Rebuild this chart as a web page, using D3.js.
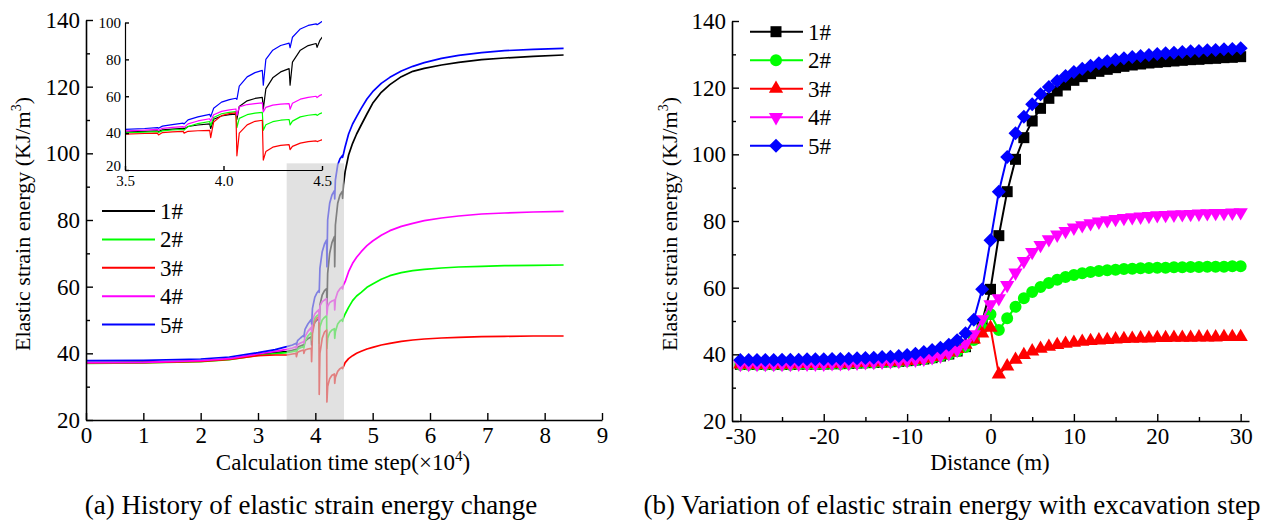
<!DOCTYPE html>
<html><head><meta charset="utf-8">
<script src="https://cdn.jsdelivr.net/npm/d3@7"></script>
<style>
body{margin:0;background:#fff}
svg{display:block}
text{font-family:"Liberation Serif","Times New Roman",serif;fill:#000}
</style>
</head><body>
<svg id="c" width="1268" height="525"></svg>
<script>
// ---------- DATA ----------
const seriesNames = ["1#","2#","3#","4#","5#"];
const seriesColors = ["#000000","#00ff00","#ff0000","#ff00ff","#0000ff"];

// (a) calculation time step (x10^4)
const histTime = [0,1,2,2.5,3,3.3,3.5,
  3.6,3.665,3.67,3.69,3.74,
  3.795,3.80,3.82,3.87,
  3.93,3.935,3.95,3.99,4.03,
  4.063,4.068,4.08,4.12,4.16,
  4.197,4.202,4.215,4.25,4.29,
  4.333,4.338,4.35,4.39,4.43,
  4.47,4.475,4.49,4.52,4.58,4.65,4.72,4.8,4.9,5.0,5.15,5.3,5.5,5.7,5.9,6.2,6.5,6.9,7.3,7.8,8.33];
const hist1 = [37.2,37.3,37.7,38.3,39.6,40.2,40.5,
  40.9,41.2,40.8,41.8,42.2,
  42.6,42.2,43.6,44.4,
  45.0,42.5,47.5,49.3,50.0,
  50.3,47.5,54.5,57.5,58.8,
  59.4,53.0,64.0,70.0,73.2,
  75.0,66.0,78.5,85.0,87.5,
  88.6,86.5,90.5,94.5,99.5,103.0,105.8,108.5,111.8,115.0,118.3,120.6,123.0,124.6,125.5,126.5,127.3,128.1,128.6,129.1,129.5];
const hist2 = [37.0,37.1,37.5,38.1,39.4,39.9,40.2,
  40.5,40.8,40.4,41.2,41.7,
  42.0,41.6,43.5,45.2,
  46.3,44.0,48.5,50.5,51.3,
  51.7,43.0,48.0,50.0,50.8,
  51.3,41.5,44.5,46.2,47.0,
  47.4,44.5,46.5,48.8,49.7,
  50.2,49.6,50.6,51.8,53.8,55.8,57.2,58.3,59.8,60.8,62.2,63.3,64.2,64.8,65.2,65.6,65.9,66.1,66.3,66.4,66.5];
const hist3 = [37.1,37.2,37.6,38.2,39.3,39.5,39.5,
  39.8,40.0,39.0,40.3,40.7,
  41.0,40.0,41.0,41.3,
  41.5,37.5,46.0,49.5,50.6,
  51.0,27.7,40.0,44.5,46.4,
  47.0,25.4,30.0,32.4,33.4,
  33.8,31.0,32.8,34.6,35.4,
  35.8,35.4,36.0,37.2,38.4,39.3,40.0,40.6,41.3,41.8,42.5,43.0,43.6,44.0,44.3,44.6,44.8,45.0,45.1,45.2,45.2];
const hist4 = [37.2,37.3,37.8,38.4,39.8,40.6,41.2,
  41.6,42.0,41.6,42.6,43.1,
  43.5,43.1,45.0,46.6,
  47.8,46.5,50.0,51.8,52.6,
  53.1,49.5,54.2,55.5,56.0,
  56.4,51.5,54.0,55.2,55.7,
  56.0,53.0,56.2,58.4,59.4,
  60.0,59.3,60.5,61.5,64.5,67.0,68.8,70.5,72.3,73.7,75.4,76.8,78.1,79.0,79.8,80.6,81.2,81.8,82.1,82.4,82.6];
const hist5 = [37.8,37.9,38.3,38.9,40.2,41.1,42.0,
  42.5,43.0,42.6,43.8,44.6,
  45.4,45.0,47.2,48.8,
  50.2,48.8,53.5,56.8,58.2,
  58.9,58.3,65.5,70.5,72.8,
  74.0,66.0,80.0,85.0,87.5,
  88.8,86.3,92.0,96.5,98.4,
  99.3,98.8,99.8,102.0,105.8,108.8,111.0,113.5,116.3,118.5,121.0,122.8,124.7,126.1,127.2,128.5,129.4,130.2,130.8,131.2,131.5];
const histSeries = [hist1,hist2,hist3,hist4,hist5];

// (a) tick labels
const histXTicks = [0,1,2,3,4,5,6,7,8,9];
const energyTicks = [20,40,60,80,100,120,140];
const energyMinor = [30,50,70,90,110,130];
const insetXTicks = [3.5,4.0,4.5];
const insetYTicks = [20,40,60,80,100];
const zoomWindow = [3.5,4.5];

// (b) distance (m)
const distance = [-30,-29,-28,-27,-26,-25,-24,-23,-22,-21,-20,-19,-18,-17,-16,-15,-14,-13,-12,-11,
  -10,-9,-8,-7,-6,-5,-4,-3,-2,-1,0,1,2,3,4,5,6,7,8,9,10,
  11,12,13,14,15,16,17,18,19,20,21,22,23,24,25,26,27,28,29,30];
const dist1 = [37.0,37.0,37.0,37.0,37.0,37.0,37.0,37.1,37.1,37.1,37.1,37.2,37.2,37.3,37.4,37.5,37.6,37.7,37.8,37.9,
  38.1,38.3,38.6,39.0,39.5,40.1,41.0,42.3,44.8,49.8,59.5,75.6,88.8,98.5,105.0,110.0,113.8,116.8,119.0,120.8,122.2,
  123.3,124.2,124.9,125.5,126.0,126.4,126.8,127.1,127.4,127.6,127.8,128.0,128.2,128.4,128.5,128.7,128.8,129.0,129.1,129.3];
const dist2 = [36.9,36.9,36.9,36.9,36.9,36.9,36.9,37.0,37.0,37.0,37.0,37.1,37.1,37.2,37.3,37.4,37.5,37.6,37.7,37.8,
  38.0,38.2,38.5,38.9,39.4,40.0,40.9,42.2,44.3,47.8,52.0,47.3,50.8,54.3,56.8,58.7,60.2,61.4,62.4,63.2,63.8,
  64.3,64.7,65.0,65.2,65.4,65.6,65.7,65.8,65.9,66.0,66.0,66.1,66.1,66.2,66.2,66.3,66.3,66.3,66.4,66.4];
const dist3 = [37.0,37.0,37.0,37.0,37.0,37.0,37.0,37.1,37.1,37.1,37.1,37.2,37.2,37.3,37.4,37.5,37.6,37.7,37.8,37.9,
  38.0,38.3,38.7,39.2,39.8,40.6,41.6,42.9,44.5,46.3,48.0,34.0,36.4,38.4,39.8,40.9,41.7,42.3,42.8,43.2,43.5,
  43.8,44.0,44.2,44.3,44.5,44.6,44.7,44.8,44.8,44.9,44.9,45.0,45.0,45.0,45.1,45.1,45.1,45.2,45.2,45.2];
const dist4 = [37.1,37.1,37.1,37.1,37.1,37.1,37.1,37.2,37.2,37.2,37.2,37.3,37.3,37.4,37.5,37.6,37.7,37.8,37.9,38.0,
  38.2,38.4,38.7,39.1,39.6,40.3,41.4,43.2,46.0,50.5,55.0,56.8,60.8,64.5,68.0,70.7,72.8,74.5,75.9,77.0,78.0,
  78.7,79.3,79.8,80.2,80.6,80.9,81.1,81.3,81.5,81.7,81.8,81.9,82.0,82.1,82.2,82.3,82.4,82.4,82.5,82.6];
const dist5 = [38.3,38.3,38.3,38.3,38.3,38.4,38.4,38.4,38.5,38.5,38.5,38.6,38.6,38.7,38.8,38.9,39.0,39.2,39.3,39.5,
  39.8,40.2,40.7,41.3,42.0,42.9,44.2,46.3,50.4,59.5,74.2,88.8,99.2,106.3,111.3,115.0,118.0,120.2,122.0,123.5,124.7,
  125.7,126.6,127.3,127.9,128.4,128.8,129.2,129.5,129.8,130.1,130.3,130.5,130.7,130.9,131.0,131.2,131.3,131.5,131.6,131.8];
const distSeries = [dist1,dist2,dist3,dist4,dist5];
const distTicks = [-30,-20,-10,0,10,20,30];
const distMinor = [-25,-15,-5,5,15,25];
const markerShapes = ["square","circle","triangle","triangleDown","diamond"];

// ---------- DRAW ----------
const svg = d3.select("#c");
const FONT = '"Liberation Serif","Times New Roman",serif';

function styleAxis(g, fs){
  g.attr("font-family", FONT).attr("font-size", fs);
  g.select(".domain").attr("stroke","#000").attr("stroke-width",1.6);
  g.selectAll(".tick line").attr("stroke","#000").attr("stroke-width",1.4);
  g.selectAll(".tick text").attr("fill","#000").style("font-size",fs+"px");
}
function minorAxis(g){
  g.select(".domain").remove();
  g.selectAll(".tick line").attr("stroke","#000").attr("stroke-width",1.4);
}
function yTitle(x, y){
  const t = svg.append("text").attr("transform",`translate(${x},${y}) rotate(-90)`)
    .attr("text-anchor","middle").attr("font-size",22);
  t.append("tspan").text("Elastic strain energy (KJ/m");
  t.append("tspan").text("3").attr("font-size",14).attr("dy",-9);
  t.append("tspan").text(")").attr("dy",9);
}

// ===== (a) =====
const xA = d3.scaleLinear().domain([0,9]).range([86,602]);
const yA = d3.scaleLinear().domain([20,140]).range([420,20]);
const histData = seriesNames.map((n,i)=>({name:n,color:seriesColors[i],
  values: histTime.map((t,j)=>[t, histSeries[i][j]])}));
const lineA = d3.line().x(d=>xA(d[0])).y(d=>yA(d[1]));
const gA = svg.append("g");
gA.selectAll("path.s").data(histData).join("path").attr("class","s")
  .attr("d",d=>lineA(d.values)).attr("fill","none").attr("stroke",d=>d.color)
  .attr("stroke-width",1.7).attr("stroke-linejoin","round");

// shaded zoom window
gA.append("rect").attr("x",xA(zoomWindow[0])).attr("width",xA(zoomWindow[1])-xA(zoomWindow[0]))
  .attr("y",yA(97)).attr("height",yA(20)-yA(97)).attr("fill","#cfcfcf").attr("opacity",0.62);

const axA_x = gA.append("g").attr("transform",`translate(0,${yA(20)})`)
  .call(d3.axisBottom(xA).tickValues(histXTicks).tickFormat(d3.format("d")).tickSizeInner(-7).tickSizeOuter(0).tickPadding(7));
styleAxis(axA_x,23);
const axA_y = gA.append("g").attr("transform",`translate(${xA(0)},0)`)
  .call(d3.axisLeft(yA).tickValues(energyTicks).tickSizeInner(-7).tickSizeOuter(0).tickPadding(6));
styleAxis(axA_y,23);
minorAxis(gA.append("g").attr("transform",`translate(${xA(0)},0)`)
  .call(d3.axisLeft(yA).tickValues(energyMinor).tickSize(-4).tickFormat("")));

// inset
const xI = d3.scaleLinear().domain(zoomWindow).range([125,322]);
const yI = d3.scaleLinear().domain([20,100]).range([170,22.5]);
svg.append("clipPath").attr("id","clipI").append("rect")
  .attr("x",xI(3.5)).attr("y",0).attr("width",xI(4.5)-xI(3.5)).attr("height",yI(20)+1);
const lineI = d3.line().x(d=>xI(d[0])).y(d=>yI(d[1]));
const gI = svg.append("g");
gI.append("g").attr("clip-path","url(#clipI)").selectAll("path").data(histData).join("path")
  .attr("d",d=>lineI(d.values.filter(v=>v[0]>=3.4 && v[0]<=4.6))).attr("fill","none")
  .attr("stroke",d=>d.color).attr("stroke-width",1.2).attr("stroke-linejoin","round");
const axI_x = gI.append("g").attr("transform",`translate(0,${yI(20)})`)
  .call(d3.axisBottom(xI).tickValues(insetXTicks).tickFormat(d3.format(".1f")).tickSizeInner(-4).tickSizeOuter(0).tickPadding(5));
styleAxis(axI_x,15);
const axI_y = gI.append("g").attr("transform",`translate(${xI(3.5)},0)`)
  .call(d3.axisLeft(yI).tickValues(insetYTicks).tickSizeInner(-4).tickSizeOuter(0).tickPadding(4));
styleAxis(axI_y,15);
axI_y.selectAll(".tick text").filter(d=>d===20).attr("dy","0.0em");
gI.selectAll(".domain").attr("stroke-width",1.2);

// legend (a)
const legA = svg.append("g");
histData.forEach((d,i)=>{
  const yy = 211 + i*28.4;
  legA.append("line").attr("x1",102).attr("x2",155).attr("y1",yy).attr("y2",yy)
    .attr("stroke",d.color).attr("stroke-width",2);
  legA.append("text").attr("x",160).attr("y",yy+8).attr("font-size",23).text(d.name);
});

// titles (a)
yTitle(30, 224);
const tA = svg.append("text").attr("x",343).attr("y",470).attr("text-anchor","middle").attr("font-size",23);
tA.append("tspan").text("Calculation time step(×10");
tA.append("tspan").text("4").attr("font-size",15).attr("dy",-9);
tA.append("tspan").text(")").attr("dy",9);
svg.append("text").attr("x",311).attr("y",514).attr("text-anchor","middle").attr("font-size",27)
  .text("(a) History of elastic strain energy change");

// ===== (b) =====
const xB = d3.scaleLinear().domain([-31,31]).range([732,1249]);
const yB = d3.scaleLinear().domain([20,140]).range([421,21]);
const distData = seriesNames.map((n,i)=>({name:n,color:seriesColors[i],shape:markerShapes[i],
  values: distance.map((x,j)=>[x, distSeries[i][j]])}));
const lineB = d3.line().x(d=>xB(d[0])).y(d=>yB(d[1]));
function marker(sel, shape, color){
  let sym, rot = 0, size;
  if(shape==="square"){sym=d3.symbolSquare; size=121;}
  else if(shape==="circle"){sym=d3.symbolCircle; size=113;}
  else if(shape==="triangle"){sym=d3.symbolTriangle; size=88;}
  else if(shape==="triangleDown"){sym=d3.symbolTriangle; size=88; rot=180;}
  else {sym=d3.symbolSquare; size=98; rot=45;}
  sel.append("path").attr("d",d3.symbol(sym,size)()).attr("fill",color)
    .attr("transform",`rotate(${rot})`);
}
const gB = svg.append("g");
distData.forEach(s=>{
  const g = gB.append("g");
  g.append("path").attr("d",lineB(s.values)).attr("fill","none").attr("stroke",s.color).attr("stroke-width",2);
  s.values.forEach(v=>{
    const m = g.append("g").attr("transform",`translate(${xB(v[0])},${yB(v[1])})`);
    marker(m, s.shape, s.color);
  });
});
const axB_x = gB.append("g").attr("transform",`translate(0,${yB(20)})`)
  .call(d3.axisBottom(xB).tickValues(distTicks).tickFormat(d3.format("d")).tickSizeInner(-7).tickSizeOuter(0).tickPadding(7));
styleAxis(axB_x,23);
axB_x.selectAll(".tick text").text(d=>d<0?"-"+Math.abs(d):d);
minorAxis(gB.append("g").attr("transform",`translate(0,${yB(20)})`)
  .call(d3.axisBottom(xB).tickValues(distMinor).tickSize(-4).tickFormat("")));
const axB_y = gB.append("g").attr("transform",`translate(${xB(-31)},0)`)
  .call(d3.axisLeft(yB).tickValues(energyTicks).tickSizeInner(-7).tickSizeOuter(0).tickPadding(6));
styleAxis(axB_y,23);
minorAxis(gB.append("g").attr("transform",`translate(${xB(-31)},0)`)
  .call(d3.axisLeft(yB).tickValues(energyMinor).tickSize(-4).tickFormat("")));

// legend (b)
const legB = svg.append("g");
distData.forEach((d,i)=>{
  const yy = 31.7 + i*28.5;
  legB.append("line").attr("x1",750).attr("x2",803).attr("y1",yy).attr("y2",yy)
    .attr("stroke",d.color).attr("stroke-width",2);
  const m = legB.append("g").attr("transform",`translate(776,${yy})`);
  marker(m, d.shape, d.color);
  legB.append("text").attr("x",808).attr("y",yy+8).attr("font-size",23).text(d.name);
});

yTitle(677, 224);
svg.append("text").attr("x",990).attr("y",470).attr("text-anchor","middle").attr("font-size",23).text("Distance (m)");
svg.append("text").attr("x",952).attr("y",514).attr("text-anchor","middle").attr("font-size",27)
  .text("(b) Variation of elastic strain energy with excavation step");
svg.selectAll("text").style("font-family",FONT);
</script>
</body></html>
